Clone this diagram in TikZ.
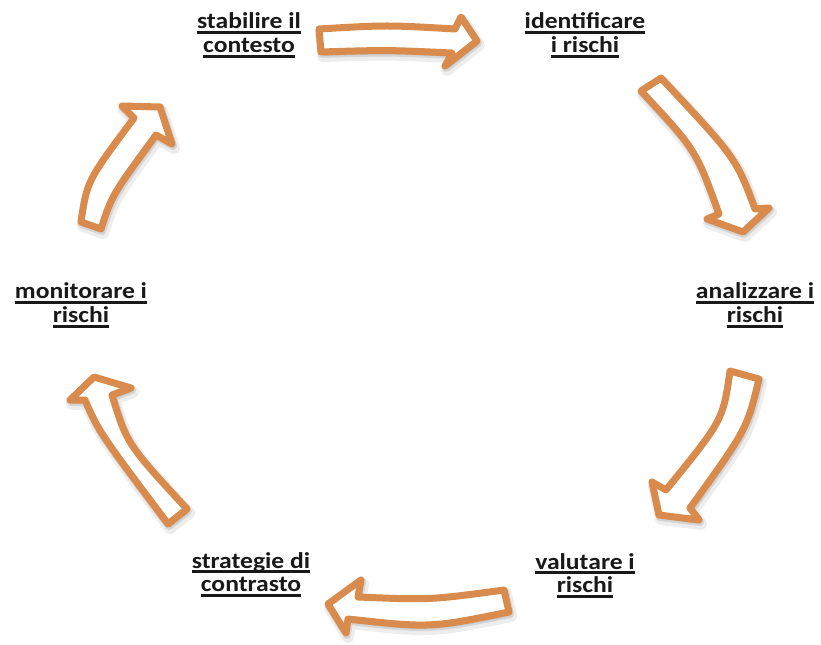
\documentclass[tikz,border=0pt]{standalone}
\usepackage{fontspec}
\setmainfont{Carlito}[FakeStretch=1.13]
\definecolor{arrowor}{RGB}{216,139,76}
\definecolor{txt}{RGB}{25,25,25}
\newcommand\myul[1]{\setbox0\hbox{#1}\rlap{\rule[-3.8pt]{\wd0}{2.1pt}}\box0}
\newcommand\twoline[2]{\begin{tabular}[t]{@{}c@{}}\myul{#1}\\\myul{#2}\end{tabular}}
\newcommand\blockarrow[1]{%
  \begin{scope}[shift={(2,4)}]\draw[arrshadow] #1;\end{scope}
  \begin{scope}[shift={(1,2)}]\draw[arrshadowb] #1;\end{scope}
  \draw[arrmain] #1;}
\tikzset{
  arrmain/.style={draw=arrowor, fill=white, line width=5.25pt, line join=round},
  arrshadow/.style={draw=black, fill=black, line width=9pt, line join=round, opacity=0.07},
  arrshadowb/.style={draw=black, fill=black, line width=6pt, line join=round, opacity=0.10},
  lbl/.style={anchor=base, inner sep=0pt, text=txt,
    font=\bfseries\fontsize{17pt}{17.6pt}\selectfont}
}
\begin{document}
\begin{tikzpicture}[x=0.75pt,y=-0.75pt]
\useasboundingbox (0,0) rectangle (821,645);
% arrows
\blockarrow{(319,29) .. controls (387,25) .. (455,29) -- (461,17) -- (477,41) -- (445,66) -- (452,53) .. controls (387,50) .. (321,52) -- cycle}
\blockarrow{(661,78) .. controls (736,158) .. (755,209) -- (769,208) -- (743,232) -- (707,219) -- (719,214) .. controls (696,150) .. (641,91) -- cycle}
\blockarrow{(759,379) .. controls (747,429) .. (690,508) -- (699,520) -- (659,515) -- (652,482) -- (666,490) .. controls (723,420) .. (730,371) -- cycle}
\blockarrow{(504,590) .. controls (430,600) .. (358,597) -- (361,580) -- (328,604) -- (346,633) -- (348,619) .. controls (430,628) .. (509,612) -- cycle}
\blockarrow{(168,524) .. controls (99,432) .. (85,400) -- (70,400) -- (94,377) -- (131,388) -- (112,395) .. controls (127,444) .. (187,509) -- cycle}
\blockarrow{(81,222) .. controls (87,181) .. (134,118) -- (122,106) -- (160,107) -- (172,144) -- (156,135) .. controls (112,195) .. (101,229) -- cycle}
% labels
\node[lbl] (l1) at (249,29) {\twoline{stabilire il}{contesto}};
\node[lbl] (l2) at (585,29) {\twoline{identificare}{i rischi}};
\node[lbl] (l3) at (755,299) {\twoline{analizzare i}{rischi}};
\node[lbl] (l4) at (585,569) {\twoline{valutare i}{rischi}};
\node[lbl] (l5) at (251,568) {\twoline{strategie di}{contrasto}};
\node[lbl] (l6) at (81,299) {\twoline{monitorare i}{rischi}};
\end{tikzpicture}
\end{document}
